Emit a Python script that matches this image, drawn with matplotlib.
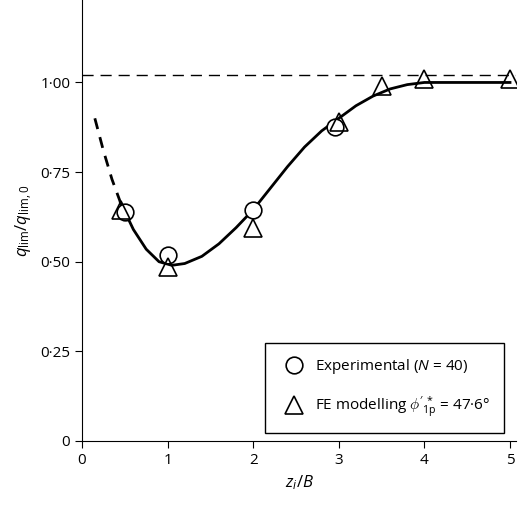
import matplotlib.pyplot as plt
from matplotlib.lines import Line2D

plt.rcParams['font.family'] = ['Open Sans', 'DejaVu Sans']
plt.rcParams['mathtext.fontset'] = 'custom'
plt.rcParams['mathtext.rm'] = 'Open Sans'
plt.rcParams['mathtext.it'] = 'Open Sans:italic'

exp_x = [0.5, 1.0, 2.0, 2.95]
exp_y = [0.64, 0.52, 0.645, 0.875]
fe_x = [0.45, 1.0, 2.0, 3.0, 3.5, 4.0, 5.0]
fe_y = [0.645, 0.485, 0.595, 0.89, 0.99, 1.01, 1.01]

curve_x = [0.45, 0.6, 0.75, 0.9, 1.05, 1.2, 1.4, 1.6, 1.8, 2.0, 2.2, 2.4, 2.6, 2.8, 3.0, 3.2, 3.4, 3.6, 3.8, 4.0, 4.5, 5.0]
curve_y = [0.665, 0.59, 0.535, 0.50, 0.49, 0.495, 0.515, 0.55, 0.595, 0.645, 0.705, 0.765, 0.82, 0.865, 0.9, 0.935, 0.962, 0.982, 0.994, 1.0, 1.0, 1.0]
dash_x = [0.15, 0.25, 0.35, 0.45]
dash_y = [0.90, 0.81, 0.73, 0.665]
ref_y = 1.02

yticks = [0, 0.25, 0.5, 0.75, 1.0]
ytick_labels = ['0', '0·25', '0·50', '0·75', '1·00']

fig = plt.figure(figsize=(5.2, 5.08), dpi=100)
ax = fig.add_axes([82/520, 1-441/508, 434/520, 441/508])

ax.axhline(ref_y, color='black', lw=1, ls=(0, (8, 5)))
ax.plot(curve_x, curve_y, color='black', lw=2)
ax.plot(dash_x, dash_y, color='black', lw=2, ls=(0, (4, 3)))
ax.plot(exp_x, exp_y, 'o', ms=12, mfc='white', mec='black', mew=1.2, ls='none')
ax.plot(fe_x, fe_y, '^', ms=13, mfc='none', mec='black', mew=1.2, ls='none')

ax.set_xlim(0, 5.07)
ax.set_ylim(0, 1.23)
ax.set_xticks(range(6))
ax.set_yticks(yticks)
ax.set_yticklabels(ytick_labels)
for s in ['top', 'right']:
    ax.spines[s].set_visible(False)
ax.tick_params(labelsize=11, length=5)
ax.set_xlabel('$z_i$/$B$', fontsize=12)
ax.set_ylabel(r'$q_{\rm lim}/q_{\rm lim,0}$', fontsize=12)

handles = [
    Line2D([], [], marker='o', ms=12, mfc='white', mec='black', mew=1.2, ls='none'),
    Line2D([], [], marker='^', ms=13, mfc='none', mec='black', mew=1.2, ls='none'),
]
labels = ['Experimental ($N$ = 40)', r"FE modelling $\phi'^{\,*}_{\rm 1p}$ = 47·6°"]
leg = ax.legend(handles, labels, loc='lower right', fontsize=11, fancybox=False,
                edgecolor='black', framealpha=1, borderpad=0.9, labelspacing=1.2,
                handletextpad=0.4, bbox_to_anchor=(0.99, 0.0))
leg.get_frame().set_linewidth(1)

fig.savefig('out.png', dpi=100)
